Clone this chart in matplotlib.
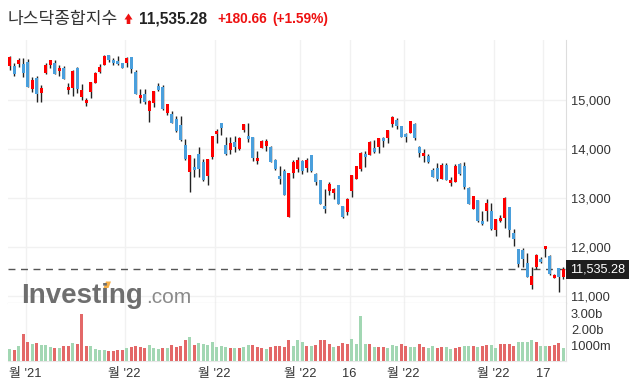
import numpy as np
import matplotlib
matplotlib.use("Agg")
import matplotlib.pyplot as plt
import matplotlib.transforms as mtransforms
from matplotlib.patches import Polygon

# daily candles (index 0 .. 123)
opens = [15702, 15702, 15736, 15736, 15777, 15219, 15450, 15149, 15546, 15722,
         15757, 15599, 15654, 15211, 15252, 15654, 15068, 14939, 15170, 15354,
         15579, 15722, 15920, 15818, 15798, 15757, 15763, 15879, 15573, 15047,
         15129, 14781, 14945, 15293, 15266, 14740, 14714, 14611, 14489, 14080,
         13521, 13630, 13896, 13732, 13452, 13834, 14311, 14530, 14080, 13984,
         14141, 13998, 14380, 14264, 14243, 13753, 14018, 14065, 14039, 13773,
         13446, 13548, 12613, 13513, 13589, 13753, 13616, 13875, 13487, 13364,
         12832, 13145, 13104, 13262, 12832, 12716, 13145, 13384, 13589, 13896,
         13875, 14012, 14033, 14229, 14217, 14509, 14591, 14475, 14311, 14331,
         14509, 14045, 13861, 13855, 13569, 13603, 13384, 13671, 13309, 13329,
         13685, 13650, 13194, 12777, 12949, 12519, 12736, 12730, 12348, 12526,
         12593, 12806, 12274, 11953, 11933, 11661, 11217, 11579, 11748, 11947,
         11810, 11366, 11571, 11387]
highs = [15890, 15750, 15853, 15853, 15832, 15464, 15491, 15307, 15750, 15818,
         15818, 15716, 15688, 15348, 15614, 15669, 15321, 15047, 15368, 15573,
         15730, 15914, 15927, 15859, 15900, 15757, 15873, 15879, 15614, 15219,
         15219, 15000, 15184, 15342, 15307, 14918, 14781, 14679, 14673, 14196,
         13875, 13808, 14033, 13787, 13793, 14264, 14401, 14530, 14237, 14237,
         14264, 14250, 14509, 14524, 14243, 13957, 14182, 14202, 14059, 13787,
         13650, 13583, 13501, 13773, 13828, 13773, 13808, 13875, 13513, 13364,
         13174, 13323, 13194, 13262, 12832, 12990, 13466, 13650, 13943, 13963,
         14162, 14182, 14229, 14250, 14386, 14673, 14626, 14475, 14331, 14571,
         14524, 14065, 13992, 13889, 13603, 13705, 13705, 13705, 13432, 13685,
         13718, 13726, 13227, 13043, 12955, 12730, 12969, 12888, 12560, 12648,
         13010, 12806, 12362, 11953, 11967, 11865, 11591, 11851, 11796, 12014,
         11836, 11442, 11571, 11591]
lows = [15607, 15481, 15669, 15463, 15260, 15170, 14965, 14965, 15532, 15648,
        15538, 15497, 15430, 15129, 15088, 15149, 15000, 14877, 15047, 15341,
        15558, 15722, 15777, 15709, 15722, 15661, 15669, 15546, 15129, 14945,
        14912, 14556, 14863, 15190, 14800, 14693, 14524, 14352, 14168, 13773,
        13125, 13432, 13419, 13350, 13268, 13793, 14115, 14290, 13881, 13890,
        13930, 13977, 14352, 14147, 13759, 13697, 14012, 13963, 13738, 13569,
        13276, 13063, 12613, 13399, 13534, 13487, 13521, 13534, 13262, 12867,
        12695, 13057, 12969, 12867, 12581, 12642, 13023, 13384, 13554, 13636,
        13875, 13922, 13922, 14045, 14127, 14454, 14407, 14237, 14147, 14319,
        14182, 13828, 13726, 13705, 13419, 13350, 13384, 13364, 13247, 13317,
        13466, 13180, 12867, 12765, 12505, 12450, 12526, 12342, 12219, 12505,
        12389, 12205, 12020, 11591, 11579, 11387, 11135, 11538, 11661, 11783,
        11421, 11354, 11067, 11333]
closes = [15885, 15526, 15818, 15559, 15272, 15409, 15116, 15252, 15716, 15818,
          15538, 15661, 15436, 15266, 15593, 15219, 15204, 15000, 15368, 15552,
          15669, 15900, 15812, 15763, 15742, 15661, 15859, 15640, 15129, 15102,
          14965, 14980, 15184, 15205, 14816, 14918, 14536, 14372, 14182, 13793,
          13875, 13562, 13583, 13364, 13793, 14264, 14366, 14434, 13902, 14127,
          14033, 14223, 14509, 14203, 13820, 13814, 14162, 14155, 13738, 13583,
          13384, 13063, 13501, 13726, 13773, 13554, 13773, 13554, 13329, 12867,
          12771, 13282, 13174, 12867, 12614, 12975, 13466, 13650, 13922, 13834,
          14147, 13937, 14229, 14168, 14386, 14659, 14468, 14250, 14250, 14571,
          14217, 13922, 13922, 13726, 13432, 13378, 13671, 13364, 13364, 13650,
          13481, 13215, 12867, 13031, 12519, 12470, 12888, 12362, 12560, 12593,
          12996, 12342, 12157, 11646, 11748, 11387, 11401, 11830, 11681, 12014,
          11442, 11421, 11387, 11535.28]
# volume in billions, colour g = up day, r = down day
volumes = [0.77, 0.71, 0.98, 1.72, 1.23, 1.09, 1.15, 1.03, 1.03, 0.88,
           0.83, 0.83, 0.96, 0.96, 1.15, 1.09, 2.99, 0.96, 0.96, 0.75,
           0.71, 0.71, 0.64, 0.66, 0.71, 0.71, 0.83, 0.90, 0.96, 0.90,
           0.83, 1.04, 0.83, 0.75, 0.83, 0.83, 1.03, 0.90, 0.96, 1.30,
           1.55, 1.04, 1.17, 1.09, 1.04, 1.21, 0.90, 0.96, 0.90, 0.83,
           0.83, 0.83, 0.90, 1.03, 1.03, 0.90, 0.83, 0.77, 0.90, 0.96,
           0.96, 0.90, 1.34, 0.96, 1.34, 1.19, 0.96, 0.96, 1.03, 1.30,
           1.30, 1.09, 0.88, 0.96, 1.15, 1.09, 1.40, 1.09, 2.82, 1.09,
           1.09, 0.90, 0.90, 0.90, 0.81, 1.03, 0.96, 1.09, 0.96, 0.90,
           0.90, 1.06, 0.90, 0.81, 0.96, 0.83, 0.90, 0.90, 0.77, 0.81,
           0.90, 0.96, 0.96, 0.96, 0.90, 0.96, 1.03, 1.03, 0.83, 1.09,
           1.09, 1.06, 0.96, 1.19, 1.19, 1.19, 1.34, 1.21, 0.96, 0.96,
           0.96, 1.03, 1.15, 0.83]
vol_dir = ("grgrrgrggg" "rgrrgrrrgg" "ggrrrrgrrr" "rgggrgrrrr" "grgggggggr"
           "grggrrrgrr" "rrrgggrgrr" "rrgrrrgggg" "rgrrgggrrg" "grrggrrggr"
           "rggrgrrggr" "rrrggggrgg" "rrrg")

tick_pos = [3.5, 25.5, 45.5, 64.5, 75.5, 87.5, 107.5, 118.5]
tick_labels = ["월 '21", "월 '22", "월 '22", "월 '22", "16", "월 '22", "월 '22", "17"]
price_ticks = [11000, 12000, 13000, 14000, 15000]
vol_ticks = [1, 2, 3]
vol_tick_labels = ["1000m", "2.00b", "3.00b"]

name = "나스닥종합지수"
last_price = "11,535.28"
change = "+180.66"
change_pct = "(+1.59%)"

UP, DOWN = "#fe0000", "#4a9fdc"
VUP, VDOWN = "#a2d7b3", "#e36868"
FONT = ["Liberation Sans", "Noto Sans CJK KR"]
plt.rcParams["font.family"] = FONT

W, H = 631, 387
fig = plt.figure(figsize=(W / 100, H / 100), dpi=100)
fig.patch.set_facecolor("white")


def fx(px):
    return px / W


def fy(py):
    return 1 - py / H


ax = fig.add_axes([fx(8), fy(303), 558 / W, 263 / H])
axv = fig.add_axes([fx(8), fy(361), 558 / W, 58 / H], sharex=ax)

o = np.array(opens, float)
c = np.array(closes, float)
x = np.arange(len(o))
body_col = [UP if cc >= oo else DOWN for oo, cc in zip(o, c)]
ax.vlines(x, lows, highs, color="#222222", lw=1, zorder=3)
ax.bar(x, np.maximum(np.abs(c - o), 18), bottom=np.minimum(o, c), width=0.72,
       color=body_col, zorder=4)

ax.axhline(closes[-1], color="#555555", lw=1, ls=(0, (5, 4)), zorder=2)
ax.set_xlim(-0.4, 123.6)
ax.set_ylim(10849, 16227)
ax.set_yticks(price_ticks)
ax.set_yticklabels([f"{p:,}" for p in price_ticks])
ax.set_xticks(tick_pos)
ax.tick_params(axis="x", labelbottom=False, length=0)
ax.yaxis.tick_right()
ax.tick_params(axis="y", length=0, pad=3.5, labelsize=9.3, labelcolor="#333333")
ax.grid(color="#f1f1f1", lw=1, zorder=0)
for s in ["left", "top"]:
    ax.spines[s].set_visible(False)
ax.spines["right"].set_color("#dddddd")
ax.spines["bottom"].set_color("#c2c2c2")

trans = mtransforms.blended_transform_factory(ax.transAxes, ax.transData)
ax.annotate(last_price, xy=(1, closes[-1]), xycoords=trans, xytext=(2.6, 0),
            textcoords="offset points", ha="left", va="center", fontsize=9.1,
            color="white", zorder=10, annotation_clip=False,
            bbox=dict(boxstyle="square,pad=0.3", fc="#1e1e1e", ec="none"))

vcol = [VUP if d == "g" else VDOWN for d in vol_dir]
axv.bar(x, volumes, width=0.68, color=vcol, zorder=3)
axv.set_ylim(0, 3.67)
axv.set_yticks(vol_ticks)
axv.set_yticklabels(vol_tick_labels)
axv.yaxis.tick_right()
axv.tick_params(axis="y", length=0, pad=3.5, labelsize=9.3, labelcolor="#333333")
axv.set_xticks(tick_pos)
axv.set_xticklabels(tick_labels)
axv.tick_params(axis="x", length=0, pad=5, labelsize=9.3, labelcolor="#333333")
axv.grid(axis="x", color="#f1f1f1", lw=1, zorder=0)
for s in ["left", "top"]:
    axv.spines[s].set_visible(False)
axv.spines["right"].set_color("#dddddd")
axv.spines["bottom"].set_color("#e6e6e6")

# header
fig.text(fx(8), fy(19), name, fontsize=12.3, color="#333333", va="center",
         family=["Noto Sans CJK KR"])
fig.add_artist(Polygon([(fx(124.5), fy(19.5)), (fx(128.5), fy(13.5)), (fx(132.5), fy(19.5)),
                        (fx(130.3), fy(19.5)), (fx(130.3), fy(24)), (fx(126.7), fy(24)),
                        (fx(126.7), fy(19.5))], closed=True, fc="#ee1111", ec="none",
                       transform=fig.transFigure))
fig.text(fx(139), fy(19), last_price, fontsize=11.2, fontweight="bold", color="#222222",
         va="center")
fig.text(fx(217), fy(19), change, fontsize=9.9, fontweight="bold", color="#ee1111",
         va="center")
fig.text(fx(272), fy(19), change_pct, fontsize=9.9, fontweight="bold", color="#ee1111",
         va="center")

# watermark
fig.text(fx(21), fy(303), "Investing", fontsize=20, fontweight="bold", color="#6e6e6e",
         va="baseline")
fig.text(fx(146), fy(303), ".com", fontsize=15, color="#8a8a8a", va="baseline")
fig.add_artist(Polygon([(fx(103.5), fy(288)), (fx(106), fy(281.5)), (fx(111), fy(281.5)),
                        (fx(108.5), fy(288))], closed=True, fc="#f7b049", ec="none",
                       transform=fig.transFigure))

fig.savefig("out.png", dpi=100, facecolor="white")
